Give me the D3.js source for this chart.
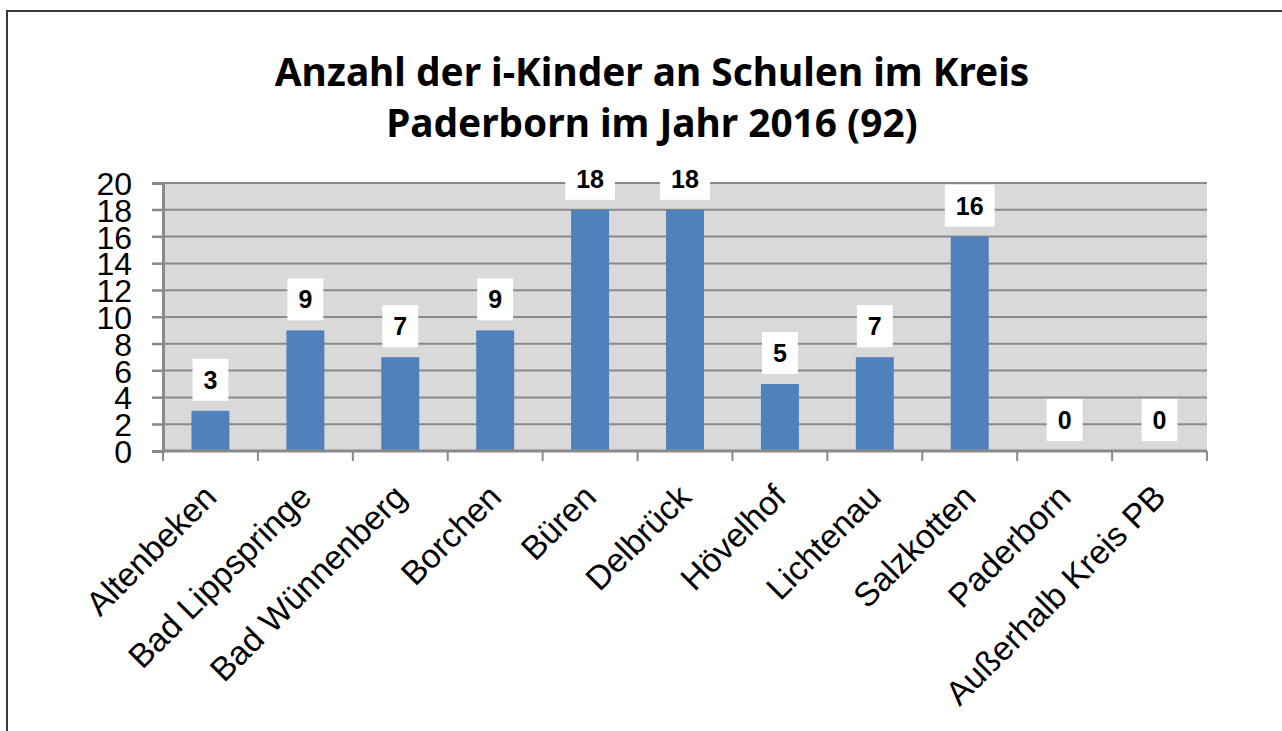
<!DOCTYPE html>
<html>
<head>
<meta charset="utf-8">
<script src="https://cdn.jsdelivr.net/npm/d3@7"></script>
<style>
  html, body { margin: 0; padding: 0; background: #fff; }
  svg { display: block; }
</style>
</head>
<body>
<svg id="chart" width="1282" height="731"></svg>
<script>
const titleLines = ["Anzahl der i-Kinder an Schulen im Kreis", "Paderborn im Jahr 2016 (92)"];
const categories = ["Altenbeken", "Bad Lippspringe", "Bad Wünnenberg", "Borchen", "Büren", "Delbrück", "Hövelhof", "Lichtenau", "Salzkotten", "Paderborn", "Außerhalb Kreis PB"];
const values = [3, 9, 7, 9, 18, 18, 5, 7, 16, 0, 0];
const yTicks = [0, 2, 4, 6, 8, 10, 12, 14, 16, 18, 20];

const svg = d3.select("#chart");
const W = 1282, H = 731;
const plot = { left: 163, right: 1207, top: 183, bottom: 451 };

// outer chart border
svg.append("rect").attr("x", 7).attr("y", 11).attr("width", W + 10).attr("height", H + 10)
  .attr("fill", "#fff").attr("stroke", "#3a3a3a").attr("stroke-width", 2);

// title
const title = svg.append("text").attr("text-anchor", "middle")
  .attr("font-family", "'Noto Sans', 'Open Sans', sans-serif").attr("font-weight", "bold")
  .attr("font-size", 38.8).attr("fill", "#000");
titleLines.forEach((t, i) => {
  title.append("tspan").attr("x", 652).attr("y", 86 + i * 51).text(t);
});

const x = d3.scaleBand().domain(categories).range([plot.left, plot.right]).paddingInner(0).paddingOuter(0);
const y = d3.scaleLinear().domain([0, 20]).range([plot.bottom, plot.top]);

// plot background
svg.append("rect").attr("x", plot.left).attr("y", plot.top)
  .attr("width", plot.right - plot.left).attr("height", plot.bottom - plot.top)
  .attr("fill", "#d9d9d9");

// gridlines
svg.append("g").selectAll("line").data(yTicks.filter(d => d > 0)).join("line")
  .attr("x1", plot.left - 11).attr("x2", plot.right)
  .attr("y1", d => y(d)).attr("y2", d => y(d))
  .attr("stroke", "#8a8a8a").attr("stroke-width", 2);

// y axis
const yAxis = d3.axisLeft(y).tickValues(yTicks).tickSize(11).tickPadding(20).tickFormat(d3.format("d"));
const gy = svg.append("g").attr("transform", `translate(${plot.left},0)`).call(yAxis);
gy.select(".domain").attr("stroke", "#8a8a8a").attr("stroke-width", 3);
gy.selectAll(".tick line").attr("stroke", "#8a8a8a").attr("stroke-width", 2);
gy.selectAll(".tick text").attr("font-family", "'Liberation Sans', Arial, sans-serif")
  .attr("font-size", 32).attr("fill", "#000").attr("dy", "0.36em");

// bars
const barW = x.bandwidth() / 2.5;
svg.append("g").selectAll("rect").data(values).join("rect")
  .attr("x", (d, i) => x(categories[i]) + (x.bandwidth() - barW) / 2)
  .attr("y", d => y(d))
  .attr("width", barW)
  .attr("height", d => y(0) - y(d))
  .attr("fill", "#4f81bd");

// x axis line & ticks
const boundaries = categories.map(c => x(c)).concat([plot.right]);
svg.append("line").attr("x1", plot.left).attr("x2", plot.right)
  .attr("y1", plot.bottom).attr("y2", plot.bottom)
  .attr("stroke", "#8a8a8a").attr("stroke-width", 3);
svg.append("g").selectAll("line").data(boundaries).join("line")
  .attr("x1", d => d).attr("x2", d => d)
  .attr("y1", plot.bottom).attr("y2", plot.bottom + 10)
  .attr("stroke", "#8a8a8a").attr("stroke-width", 2);

// x labels
svg.append("g").selectAll("text").data(categories).join("text")
  .attr("transform", d => `translate(${x(d) + x.bandwidth() / 2 - 9},${plot.bottom + 31}) rotate(-45)`)
  .attr("text-anchor", "end").attr("dy", "0.72em")
  .attr("font-family", "'Liberation Sans', Arial, sans-serif").attr("font-size", 33.5)
  .attr("fill", "#000").text(d => d);

// data labels
const lg = svg.append("g").selectAll("g").data(values).join("g")
  .attr("transform", (d, i) => `translate(${x(categories[i]) + x.bandwidth() / 2},${y(d) - 10 - 21})`);
lg.each(function(d) {
  const g = d3.select(this);
  const rect = g.append("rect").attr("fill", "#fff");
  const t = g.append("text").attr("text-anchor", "middle").attr("dy", "0.36em")
    .attr("font-family", "'Liberation Sans', Arial, sans-serif").attr("font-weight", "bold")
    .attr("font-size", 25).attr("fill", "#000").text(d);
  const w = t.node().getComputedTextLength() + 22;
  rect.attr("x", -w / 2).attr("y", -21).attr("width", w).attr("height", 42);
});
</script>
</body>
</html>
